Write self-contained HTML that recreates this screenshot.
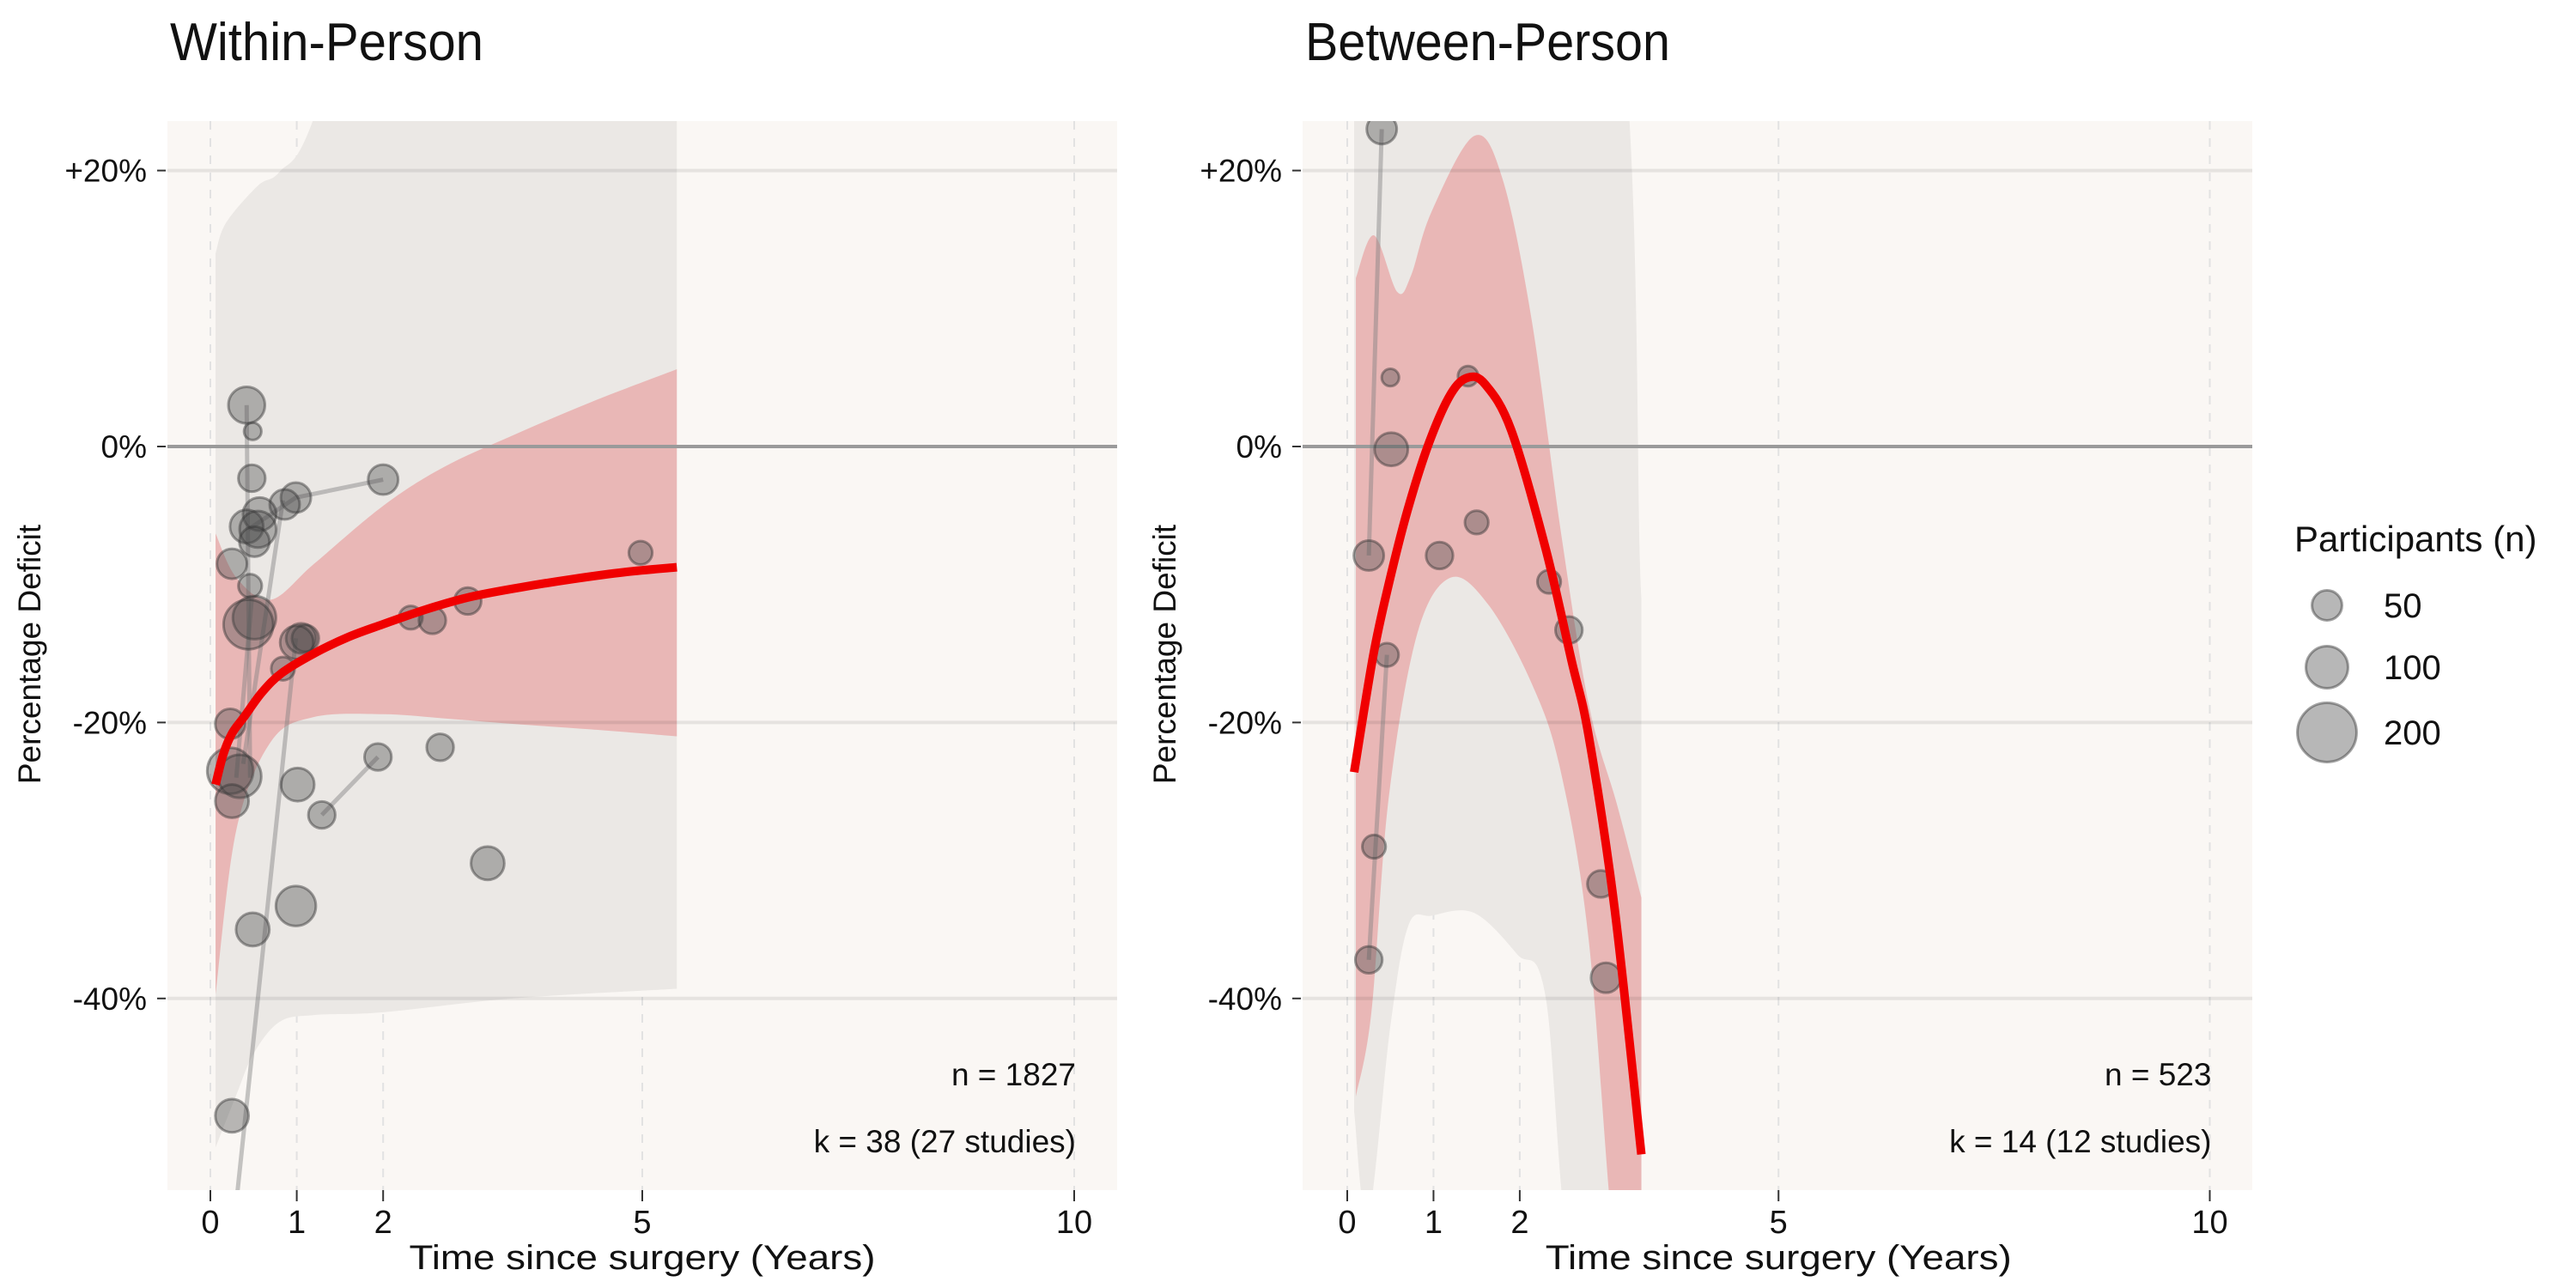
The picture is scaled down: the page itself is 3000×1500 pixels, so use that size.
<!DOCTYPE html>
<html><head><meta charset="utf-8"><title>Percentage Deficit vs Time since surgery</title>
<style>
html,body{margin:0;padding:0;background:#fff;}
svg{display:block;}
text{font-family:"Liberation Sans",sans-serif;fill:#111;}
</style></head>
<body>
<svg id="chart" width="3000" height="1500" viewBox="0 0 3000 1500" xmlns="http://www.w3.org/2000/svg"></svg>
<script>
// ---------- data ----------
const xTicks = [0, 1, 2, 5, 10];
const yTicks = [20, 0, -20, -40];
const yTickLabels = ["+20%", "0%", "-20%", "-40%"];
const legendSizes = [50, 100, 200];

// Within-person points
const wT = [0.42,0.49,0.48,2.0,0.99,0.86,0.57,0.42,0.55,0.51,0.25,4.98,0.46,0.51,0.44,1.05,1.1,1.0,0.84,2.32,2.57,2.98,0.23,0.23,0.34,0.25,1.29,1.94,1.01,2.66,3.21,0.99,0.49,0.25];
const wY = [3.0,1.1,-2.3,-2.4,-3.7,-4.2,-4.9,-5.8,-6.0,-6.9,-8.5,-7.7,-10.1,-12.4,-12.9,-13.9,-13.9,-14.2,-16.1,-12.4,-12.6,-11.2,-20.1,-23.5,-23.9,-25.7,-26.7,-22.5,-24.5,-21.8,-30.2,-33.3,-35.0,-48.5];
const wN = [75,16,40,50,50,50,62,62,75,50,50,30,30,105,140,50,40,62,30,30,40,40,50,120,105,62,40,40,62,40,62,90,62,62];
const wLinesT = [[0.42,0.46],[0.44,0.99,2.0],[1.29,1.94],[0.28,0.99],[0.38,0.84],[0.3,0.48]];
const wLinesY = [[3.0,-24],[-6.0,-3.7,-2.4],[-26.7,-22.5],[-56,-13.9],[-23,-3.9],[-24,-11]];
const wFitT = [0.06,0.15,0.25,0.39,0.6,0.83,1.2,1.6,1.99,2.5,3.01,3.6,4.2,4.8,5.4];
const wFitY = [-24.5,-22.3,-20.8,-19.6,-17.8,-16.4,-15.0,-13.8,-12.9,-11.8,-10.9,-10.2,-9.6,-9.1,-8.75];
const wRibT = [0.06,0.3,0.7,1.2,2.0,2.7,3.5,4.4,5.4];
const wRibHi = [-6.3,-9.5,-11.1,-8.5,-4.3,-1.5,0.8,3.2,5.6];
const wRibLo = [-39.7,-27.8,-21.4,-19.6,-19.4,-19.7,-20.1,-20.5,-21.0];
const wCiT = [0.06,0.18,0.55,0.8,1.18,2.0,3.5,5.4];
const wCiHi = [14,16.2,18.9,19.9,23.5,40,40,40];
const wCiLoT = [0.06,0.3,0.5,0.8,1.2,2.0,3.5,5.4];
const wCiLo = [-50.8,-47,-44,-41.7,-41.2,-41,-40,-39.3];

// Between-person points
const bT = [0.4,0.5,0.51,0.25,1.07,1.5,1.4,2.34,2.57,0.46,0.31,0.25,2.94,3.0];
const bY = [23.0,5.0,-0.2,-7.9,-7.9,-5.5,5.1,-9.8,-13.3,-15.1,-29.0,-37.2,-31.7,-38.5];
const bN = [50,16,62,50,40,30,22,30,40,30,30,40,40,50];
const bLinesT = [[0.4,0.25],[0.46,0.25]];
const bLinesY = [[23.0,-7.9],[-15.1,-37.2]];
const bFitT = [0.08,0.3,0.48,0.7,0.95,1.2,1.4,1.6,1.9,2.3,2.6,2.8,3.1,3.41];
const bFitY = [-23.6,-15.2,-10.0,-4.6,0.3,3.8,5.0,4.5,1.2,-7.4,-15.5,-21.0,-33.5,-51.3];
const bRibT = [0.1,0.31,0.58,0.74,0.97,1.47,1.8,2.14,2.47,2.8,3.13,3.41];
const bRibHi = [12.2,15.3,11.2,12.4,16.9,22.5,19.4,9.1,-5.9,-18.7,-26,-32.7];
const bRibLoT = [0.1,0.28,0.48,0.81,1.2,1.64,2.14,2.47,2.8,3.13,3.41];
const bRibLo = [-47.1,-41,-25.5,-13.6,-9.5,-11.5,-17.2,-23.4,-35.8,-60,-60];
const bCiT = [0.08,2.9,3.41];
const bCiHi = [40,40,-11];
const bCiLoT = [0.08,0.24,0.5,0.71,0.98,1.47,1.97,2.3,2.63,3.41];
const bCiLo = [-48.2,-56,-42,-34.7,-34,-33.8,-36.8,-39.9,-60,-60];

// ---------- drawing ----------
const NS = "http://www.w3.org/2000/svg";
const svg = document.getElementById("chart");
function mk(tag, attrs, parent, txt){
  const e = document.createElementNS(NS, tag);
  for (const k in attrs) e.setAttribute(k, attrs[k]);
  if (txt !== undefined) e.textContent = txt;
  (parent||svg).appendChild(e);
  return e;
}
const Y0 = 520, YPP = 16.07, TOP = 141, BOT = 1386;
function ys(v){ return Y0 - v*YPP; }
function rOf(n){ return 2.4*Math.sqrt(n) + 0.5; }
// Catmull-Rom smooth path segment through points (without leading M)
function smooth(pts){
  let d = "";
  for (let i = 0; i < pts.length-1; i++){
    const p0 = pts[i-1] || pts[i], p1 = pts[i], p2 = pts[i+1], p3 = pts[i+2] || p2;
    const c1 = [p1[0]+(p2[0]-p0[0])/6, p1[1]+(p2[1]-p0[1])/6];
    const c2 = [p2[0]-(p3[0]-p1[0])/6, p2[1]-(p3[1]-p1[1])/6];
    d += " C" + c1[0] + "," + c1[1] + " " + c2[0] + "," + c2[1] + " " + p2[0] + "," + p2[1];
  }
  return d;
}

function panel(cfg){
  const g = mk("g", {});
  
  
  const xs = t => cfg.x0 + t*cfg.xpp;
  const clipId = cfg.name + "-clip";
  const defs = mk("defs", {}, g);
  const cp = mk("clipPath", {id: clipId}, defs);
  mk("rect", {x: cfg.left, y: TOP, width: cfg.right-cfg.left, height: BOT-TOP}, cp);
  const bg = mk("rect", {x: cfg.left, y: TOP, width: cfg.right-cfg.left, height: BOT-TOP, fill: "#faf7f4"}, g);
  
  
  xTicks.forEach(t => {
    const l = mk("line", {x1: xs(t), x2: xs(t), y1: TOP, y2: BOT, stroke: "#e2e2e2", "stroke-width": 2, "stroke-dasharray": "10,10"}, g);
    
    
  });
  const pg = mk("g", {"clip-path": "url(#" + clipId + ")"}, g);
  const band = (tHi, vHi, tLo, vLo) => {
    const hi = tHi.map((t,i) => [xs(t), ys(vHi[i])]);
    const lo = tLo.map((t,i) => [xs(t), ys(vLo[i])]).reverse();
    return "M" + hi[0][0] + "," + hi[0][1] + smooth(hi) + " L" + lo[0][0] + "," + lo[0][1] + smooth(lo) + " Z";
  };
  const ci = mk("path", {d: band(cfg.ciT, cfg.ciHi, cfg.ciLoT, cfg.ciLo), fill: "#ebe8e5"}, pg);
  
  
  const rib = mk("path", {d: band(cfg.ribT, cfg.ribHi, cfg.ribLoT, cfg.ribLo), fill: "#e89a9a", "fill-opacity": 0.62}, pg);
  
  
  yTicks.forEach(v => {
    const l = mk("line", {x1: cfg.left, x2: cfg.right, y1: ys(v), y2: ys(v), stroke: v===0 ? "#9a9a9a" : "#000", "stroke-opacity": v===0 ? 1 : 0.08, "stroke-width": 4}, g);
    
    
  });
  const pg2 = mk("g", {"clip-path": "url(#" + clipId + ")"}, g);
  cfg.linesT.forEach((ts, j) => {
    const l = mk("polyline", {points: ts.map((t,i) => xs(t)+","+ys(cfg.linesY[j][i])).join(" "), fill: "none", stroke: "#808080", "stroke-opacity": 0.45, "stroke-width": 5}, pg2);
    
    
  });
  cfg.pT.forEach((t, i) => {
    const c = mk("circle", {cx: xs(t), cy: ys(cfg.pY[i]), r: rOf(cfg.pN[i]), fill: "#4a4a4a", "fill-opacity": 0.38, stroke: "#333", "stroke-opacity": 0.45, "stroke-width": 3}, pg2);
    
    
  });
  const fp = cfg.fitT.map((t,i) => [xs(t), ys(cfg.fitY[i])]);
  const fit = mk("path", {d: "M" + fp[0][0] + "," + fp[0][1] + smooth(fp), fill: "none", stroke: "#f00000", "stroke-width": 10, "stroke-linejoin": "round"}, pg2);
  
  
  xTicks.forEach(t => {
    const tk = mk("line", {x1: xs(t), x2: xs(t), y1: BOT, y2: BOT+13, stroke: "#333", "stroke-width": 2}, g);
    
    
    const tl = mk("text", {x: xs(t), y: 1436, "text-anchor": "middle", "font-size": 38}, g, String(t));
    
    
  });
  yTicks.forEach((v, i) => {
    const tk = mk("line", {x1: cfg.left-12, x2: cfg.left-2, y1: ys(v), y2: ys(v), stroke: "#333", "stroke-width": 2}, g);
    
    
    const tl = mk("text", {x: cfg.left-24, y: ys(v)+13, "text-anchor": "end", "font-size": 37}, g, yTickLabels[i]);
    
    
  });
  const xt = mk("text", {x: xs(5), y: 1478, "text-anchor": "middle", "font-size": 40, textLength: 543, lengthAdjust: "spacingAndGlyphs"}, g, "Time since surgery (Years)");
  
  
  const ytl = mk("text", {x: 0, y: 0, "text-anchor": "middle", "font-size": 37, transform: "translate(" + (cfg.left-148) + ",762) rotate(-90)"}, g, "Percentage Deficit");
  
  
  const ti = mk("text", {x: cfg.left+3, y: 70, "font-size": 62, textLength: cfg.titleLen, lengthAdjust: "spacingAndGlyphs"}, g, cfg.title);
  
  
  const a1 = mk("text", {x: xs(10)+2, y: 1264, "text-anchor": "end", "font-size": 37}, g, cfg.nText);
  
  
  const a2 = mk("text", {x: xs(10)+2, y: 1342, "text-anchor": "end", "font-size": 37}, g, cfg.kText);
  
  
}

panel({name: "within-person-panel", title: "Within-Person", titleLen: 365, left: 195, right: 1301, x0: 245, xpp: 100.6,
  pT: wT, pY: wY, pN: wN, linesT: wLinesT, linesY: wLinesY, fitT: wFitT, fitY: wFitY,
  ribT: wRibT, ribHi: wRibHi, ribLoT: wRibT, ribLo: wRibLo, ciT: wCiT, ciHi: wCiHi, ciLoT: wCiLoT, ciLo: wCiLo,
  nText: "n = 1827", kText: "k = 38 (27 studies)"});
panel({name: "between-person-panel", title: "Between-Person", titleLen: 425, left: 1517, right: 2623, x0: 1569, xpp: 100.45,
  pT: bT, pY: bY, pN: bN, linesT: bLinesT, linesY: bLinesY, fitT: bFitT, fitY: bFitY,
  ribT: bRibT, ribHi: bRibHi, ribLoT: bRibLoT, ribLo: bRibLo, ciT: bCiT, ciHi: bCiHi, ciLoT: bCiLoT, ciLo: bCiLo,
  nText: "n = 523", kText: "k = 14 (12 studies)"});

const lg = mk("g", {});


const lt = mk("text", {x: 2672, y: 642, "font-size": 42}, lg, "Participants (n)");


const legY = [705, 777, 853];
legendSizes.forEach((n, i) => {
  const c = mk("circle", {cx: 2710, cy: legY[i], r: rOf(n), fill: "#4a4a4a", "fill-opacity": 0.4, stroke: "#333", "stroke-opacity": 0.45, "stroke-width": 3}, lg);
  
  
  const t = mk("text", {x: 2776, y: legY[i]+14, "font-size": 40}, lg, String(n));
  
  
});
</script>
</body></html>
